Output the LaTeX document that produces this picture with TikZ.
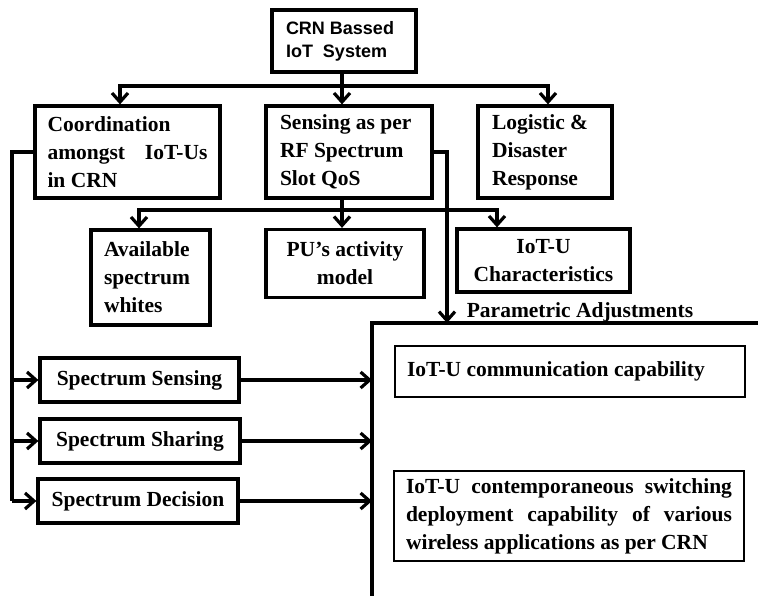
\documentclass[tikz,border=0pt]{standalone}
\usepackage{fontspec}
\setmainfont{Liberation Serif}
\newfontfamily\sansb{Liberation Sans}
\usetikzlibrary{arrows.meta}
\newcommand{\jline}[2]{\makebox[#1][s]{#2}}
\begin{document}
\begin{tikzpicture}[x=1pt,y=-1pt,
  ln/.style={line width=3.2pt},
  arr/.style={ln,-{Straight Barb[length=9pt,width=16pt]}},
  box/.style={draw,line width=3.2pt,inner sep=0pt,font=\fontsize{21.5}{28}\selectfont\bfseries},
  lbox/.style={box,align=flush left},
  cbox/.style={box,align=flush center},
  ibox/.style={draw,line width=1.4pt,inner sep=0pt,align=flush left,font=\fontsize{21.5}{28}\selectfont\bfseries}
]
\useasboundingbox (0,0) rectangle (758,596);
% top
\node[lbox,minimum width=144pt,minimum height=62pt,text width=116pt,font=\sansb\fontsize{18}{23}\selectfont\bfseries] (crn) at (344,41) {CRN Bassed\\IoT\ \ System};
\node[lbox,minimum width=185pt,minimum height=92pt,text width=160pt] (coord) at (127.5,152) {Coordination\\\jline{160pt}{amongst IoT-Us}\\in CRN};
\node[lbox,minimum width=166pt,minimum height=92pt,text width=138pt] (sens) at (349,152) {Sensing as per\\RF Spectrum\\Slot QoS};
\node[lbox,minimum width=134pt,minimum height=92pt,text width=106pt] (logi) at (545,152) {Logistic \&\\Disaster\\Response};
% second row
\node[lbox,minimum width=119pt,minimum height=95pt,text width=93pt] (avail) at (150.5,277.5) {Available\\spectrum\\whites};
\node[cbox,minimum width=158pt,minimum height=68pt] (pu) at (345,263.5) {PU’s activity\\model};
\node[cbox,minimum width=173pt,minimum height=63pt] (char) at (543.5,260.5) {IoT-U\\Characteristics};
% spectrum boxes
\node[cbox,minimum width=199pt,minimum height=44pt] (ssen) at (139.5,380) {Spectrum Sensing};
\node[cbox,minimum width=200pt,minimum height=44pt] (ssha) at (140,441) {Spectrum Sharing};
\node[cbox,minimum width=200pt,minimum height=44pt] (sdec) at (138,501) {Spectrum Decision};
% parametric area
\node[font=\fontsize{21.5}{24}\selectfont\bfseries,inner sep=0pt] (ptitle) at (580,312) {Parametric Adjustments};
\coordinate (ftr) at (758,323);
\coordinate (ftl) at (372,323);
\coordinate (fbl) at (372,596);
\draw[ln] (ftr) -- (ftl) -- (fbl);
\node[ibox,minimum width=350pt,minimum height=51pt,text width=326pt] (capa) at (570,371.5) {IoT-U communication capability};
\node[ibox,minimum width=350pt,minimum height=90pt,text width=326pt] (cont) at (569,516) {\jline{326pt}{IoT-U contemporaneous switching}\\\jline{326pt}{deployment capability of various}\\wireless applications as per CRN};
% connectors top
\coordinate (j1) at (342,86);
\draw[ln] (crn.south -| j1) -- (j1);
\draw[arr] (j1) -| ([xshift=-7.5pt]coord.north);
\draw[arr] (j1) -- (sens.north -| j1);
\draw[arr] (j1) -| ([xshift=3pt]logi.north);
% connectors middle
\coordinate (j2) at (342,210);
\draw[ln] (sens.south -| j2) -- (j2);
\draw[arr] (j2) -| ([xshift=-11.5pt]avail.north);
\draw[arr] (j2) -- (pu.north -| j2);
\draw[arr] (j2) -| ([xshift=-46.5pt]char.north);
% right connector to parametric frame
\coordinate (pa) at (447,323);
\draw[arr] (sens.east) -| (pa);
% left connector
\coordinate (lb) at (12,501);
\draw[ln] (coord.west) -| (lb);
\draw[arr] (ssen.west -| lb) -- (ssen.west);
\draw[arr] (ssha.west -| lb) -- (ssha.west);
\draw[arr] (sdec.west -| lb) -- (sdec.west);
% to frame
\draw[arr] (ssen.east) -- (ssen.east -| ftl);
\draw[arr] (ssha.east) -- (ssha.east -| ftl);
\draw[arr] (sdec.east) -- (sdec.east -| ftl);
\end{tikzpicture}
\end{document}
